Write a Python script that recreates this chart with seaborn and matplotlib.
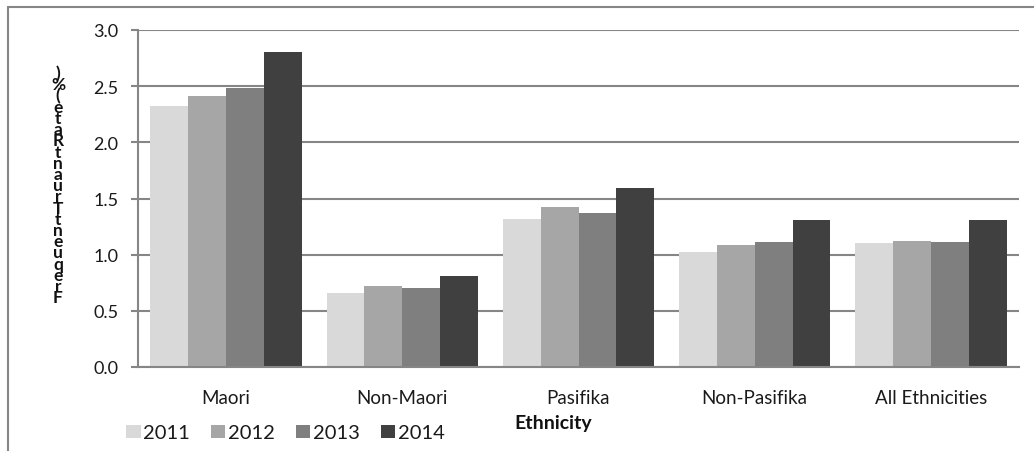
import matplotlib
matplotlib.use("Agg")
import matplotlib.pyplot as plt
from matplotlib.lines import Line2D
from matplotlib.ticker import FixedLocator, MultipleLocator, FormatStrFormatter
import seaborn as sns
import pandas as pd

# Frequent truancy rate (%) by ethnic group and year
ethnicities = ["Maori", "Non-Maori", "Pasifika", "Non-Pasifika", "All Ethnicities"]
years = ["2011", "2012", "2013", "2014"]
rate_2011 = [2.32, 0.66, 1.32, 1.02, 1.10]
rate_2012 = [2.41, 0.72, 1.42, 1.09, 1.12]
rate_2013 = [2.48, 0.70, 1.37, 1.11, 1.11]
rate_2014 = [2.80, 0.81, 1.59, 1.31, 1.31]
year_colors = ["#d9d9d9", "#a6a6a6", "#7f7f7f", "#404040"]
y_label = "Frequent Truant Rate (%)"

rows = []
for year, series in zip(years, [rate_2011, rate_2012, rate_2013, rate_2014]):
    for eth, v in zip(ethnicities, series):
        rows.append({"Ethnicity": eth, "Year": year, "Rate": v})
df = pd.DataFrame(rows)

sns.set_theme(style="white")
plt.rcParams["font.family"] = ["Lato", "DejaVu Sans"]

W, H = 1034, 452
fig = plt.figure(figsize=(W / 100, H / 100), dpi=100)
ax = fig.add_axes([138 / W, 1 - 368 / H, (1019 - 138) / W, (368 - 31) / H])

grid_c = "#868686"
text_c = "#1a1a1a"
sns.barplot(data=df, x="Ethnicity", y="Rate", hue="Year", order=ethnicities,
            hue_order=years, palette=year_colors, saturation=1, width=0.86,
            edgecolor="none", linewidth=0, ax=ax, legend=True)

ax.set_ylim(0, 3.0)
ax.set_xlim(-0.5, len(ethnicities) - 0.5)
ax.yaxis.set_major_locator(MultipleLocator(0.5))
ax.yaxis.set_major_formatter(FormatStrFormatter("%.1f"))
ax.yaxis.grid(True, color=grid_c, linewidth=1.5)
ax.set_axisbelow(True)

for side in ["top", "right"]:
    ax.spines[side].set_visible(False)
for side in ["left", "bottom"]:
    ax.spines[side].set_color(grid_c)
    ax.spines[side].set_linewidth(1.5)

# category boundary ticks on x, value ticks on y
ax.xaxis.set_minor_locator(FixedLocator([i - 0.5 for i in range(len(ethnicities) + 1)]))
ax.tick_params(axis="x", which="major", length=0, pad=16, labelsize=13.5, labelcolor=text_c)
ax.tick_params(axis="x", which="minor", length=5, width=1.5, color=grid_c, direction="out")
ax.tick_params(axis="y", which="major", length=5, width=1.5, color=grid_c, direction="out",
               pad=9, labelsize=13, labelcolor=text_c, left=True)

ax.set_xlabel("")
ax.set_ylabel("")
fig.text(553 / W, 1 - 424 / H, "Ethnicity", ha="center", va="center",
         fontsize=14, fontweight="bold", color="#111111")

# stacked vertical axis title
stacked = "\n".join(reversed(y_label.replace(" ", "")))
fig.text(58 / W, 1 - 186 / H, stacked, ha="center", va="center", fontsize=12.5,
         fontweight="bold", linespacing=0.63, color="#111111")

# legend along the bottom
handles, labels = ax.get_legend_handles_labels()
ax.get_legend().remove()
fig.legend(handles, labels, loc="center left", bbox_to_anchor=(108 / W, 1 - 434 / H),
           ncol=4, frameon=False, handlelength=0.72, handleheight=0.68,
           handletextpad=0.12, columnspacing=1.05, fontsize=14.5, labelcolor=text_c)

# chart frame
fig.add_artist(Line2D([8 / W, 8 / W], [0, 1 - 8 / H], color=grid_c, lw=1.5,
                      transform=fig.transFigure))
fig.add_artist(Line2D([8 / W, 1], [1 - 8 / H, 1 - 8 / H], color=grid_c, lw=1.5,
                      transform=fig.transFigure))

fig.savefig("out.png", dpi=100)
